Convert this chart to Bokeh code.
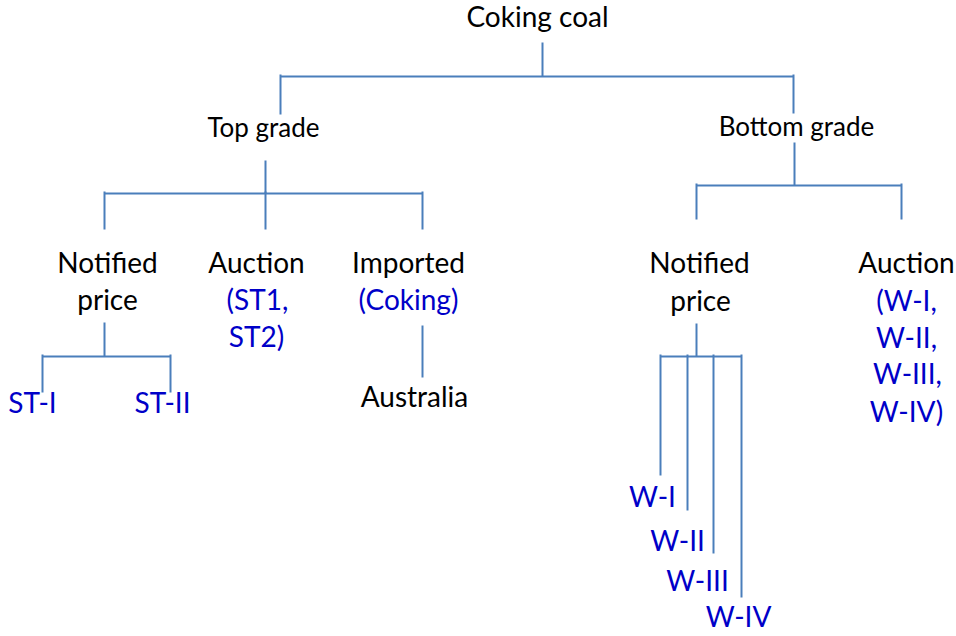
from bokeh.plotting import figure
from bokeh.models import ColumnDataSource, Range1d
from bokeh.embed import file_html
from bokeh.resources import INLINE
from bokeh.core.properties import value

# ---- tree content (text lines of each node; y = text baseline) ----
node_text = ["Coking coal", "Top grade", "Bottom grade",
             "Notified", "price", "Auction", "(ST1,", "ST2)",
             "Imported", "(Coking)", "Australia", "ST-I", "ST-II",
             "Notified", "price", "Auction", "(W-I,", "W-II,", "W-III,", "W-IV)",
             "W-I", "W-II", "W-III", "W-IV"]
node_x = [537, 263, 796,
          107, 107, 256, 257, 256,
          408, 408, 414, 32, 162,
          699, 700, 906, 906, 906, 907, 906,
          652, 677, 697, 738]
node_y = [25, 137, 136,
          273, 310, 273, 310, 347,
          273, 310, 407, 413, 413,
          273, 311, 273, 311, 348, 384, 422,
          507, 551, 591, 627]
node_kind = ["root", "grade", "grade",
             "n", "n", "n", "b", "b",
             "n", "b", "n", "b", "b",
             "n", "n", "n", "b", "b", "b", "b",
             "b", "b", "b", "b"]

# ---- connectors: one bracket per parent ----
stem_x = [542, 265, 794, 104, 696, 422]
stem_top = [42, 160, 142, 322, 323, 325]
bar_y = [76, 193, 185, 356, 356, 377]
child_x = [[280, 793], [104, 265, 422], [696, 901], [42, 170],
           [660, 687, 713, 741], []]
child_end = [[114, 113], [229, 229, 229], [219, 219], [392, 392],
             [475, 510, 553, 597], []]

LINE = "#4A7EBB"
BLACK = "#000000"
BLUE = "#0000C8"
SIZES = {"root": "28px", "grade": "26px", "n": "28px", "b": "28px"}
COLORS = {"root": BLACK, "grade": BLACK, "n": BLACK, "b": BLUE}
# distance from baseline up to the middle of the text box
SHIFT = {"root": 10, "grade": 11, "n": 11.5, "b": 11.5}

p = figure(width=956, height=636, output_backend="svg", toolbar_location=None,
           x_range=Range1d(0, 956), y_range=Range1d(636, 0),
           x_axis_type=None, y_axis_type=None, min_border=0)
p.grid.visible = False
p.outline_line_color = None
p.background_fill_color = "white"

x0, y0, x1, y1 = [], [], [], []
for sx, st, by, cxs, ces in zip(stem_x, stem_top, bar_y, child_x, child_end):
    x0.append(sx); y0.append(st); x1.append(sx); y1.append(by)
    if cxs:
        x0.append(min(cxs)); y0.append(by); x1.append(max(cxs)); y1.append(by)
        for cx, ce in zip(cxs, ces):
            x0.append(cx); y0.append(by - 2); x1.append(cx); y1.append(ce)
p.segment(x0=x0, y0=y0, x1=x1, y1=y1, line_color=LINE, line_width=2)

src = ColumnDataSource(dict(
    x=node_x, y=[v - SHIFT[k] for v, k in zip(node_y, node_kind)], t=node_text,
    c=[COLORS[k] for k in node_kind],
    s=[SIZES[k] for k in node_kind]))
p.text(x="x", y="y", text="t", source=src, text_color="c", text_font_size="s",
       text_font=value("Lato"), text_align="center", text_baseline="middle")

open("out.html", "w").write(file_html(p, INLINE))
